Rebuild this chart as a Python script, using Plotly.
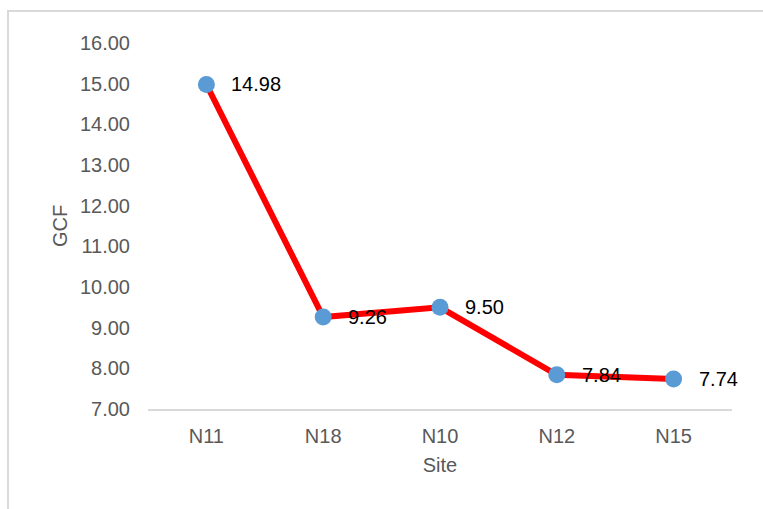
import plotly.graph_objects as go

# Geochemical contamination factor per site
sites = ["N11", "N18", "N10", "N12", "N15"]
gcf = [14.98, 9.26, 9.50, 7.84, 7.74]
y_ticks = [7, 8, 9, 10, 11, 12, 13, 14, 15, 16]
y_tick_labels = [f"{v:.2f}" for v in y_ticks]

FONT = "Liberation Sans, Arial, sans-serif"
FS = 20
W, H = 763, 509
ML, MR, MT, MB = 148, 31, 43, 100
PW, PH = W - ML - MR, H - MT - MB

fig = go.Figure()
fig.add_trace(go.Scatter(
    x=sites, y=gcf, mode="lines+markers",
    line=dict(color="#FF0000", width=6),
    marker=dict(color="#5B9BD5", size=17),
    showlegend=False, cliponaxis=False,
))

# value labels to the right of each point
for s, v in zip(sites, gcf):
    fig.add_annotation(
        x=s, y=v, text=f"{v:.2f}", showarrow=False,
        xanchor="left", yanchor="middle", xshift=23,
        font=dict(family=FONT, size=FS, color="#000000"),
    )

# outer chart frame
fig.add_shape(
    type="rect", xref="paper", yref="paper",
    x0=(8 - ML) / PW, x1=1.2, y0=-0.5, y1=1 + (MT - 11) / PH,
    line=dict(color="#D9D9D9", width=2), layer="below",
)

fig.update_layout(
    width=W, height=H,
    margin=dict(l=ML, r=MR, t=MT, b=MB),
    paper_bgcolor="white", plot_bgcolor="white",
    font=dict(family=FONT, size=FS, color="#595959"),
    xaxis=dict(
        type="category", range=[-0.5, len(sites) - 0.5],
        showgrid=False, showline=True,
        linecolor="#D9D9D9", linewidth=2, ticks="",
        tickfont=dict(size=FS, color="#595959"),
        ticklabelstandoff=8,
        title=dict(text="Site", font=dict(size=FS, color="#595959"), standoff=12),
    ),
    yaxis=dict(
        range=[7, 16], tickvals=y_ticks, ticktext=y_tick_labels,
        showgrid=False, showline=False, zeroline=False, ticks="",
        tickfont=dict(size=FS, color="#595959"),
        ticklabelstandoff=17,
        title=dict(text="GCF", font=dict(size=FS, color="#595959"), standoff=6),
    ),
)

fig.write_html("out.html")
